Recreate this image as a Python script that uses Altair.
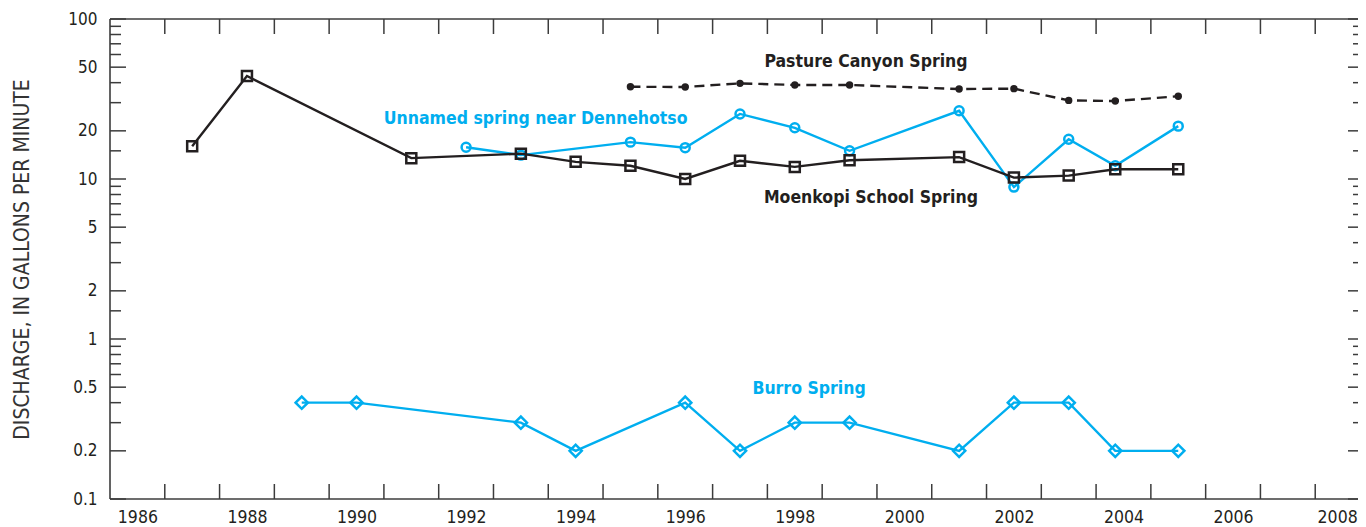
import altair as alt
import pandas as pd

# ---------------- data ----------------
moenkopi_year = [1987.5, 1988.5, 1991.5, 1993.5, 1994.5, 1995.5, 1996.5, 1997.5,
                 1998.5, 1999.5, 2001.5, 2002.5, 2003.5, 2004.35, 2005.5]
moenkopi_q = [16, 44, 13.5, 14.4, 12.8, 12.1, 10.0, 13.0, 11.9, 13.1, 13.7, 10.2, 10.5, 11.5, 11.5]

unnamed_year = [1992.5, 1993.5, 1995.5, 1996.5, 1997.5, 1998.5, 1999.5,
                2001.5, 2002.5, 2003.5, 2004.35, 2005.5]
unnamed_q = [15.8, 14.1, 17.0, 15.7, 25.5, 20.9, 15.0, 26.7, 8.9, 17.7, 12.1, 21.4]

pasture_year = [1995.5, 1996.5, 1997.5, 1998.5, 1999.5, 2001.5, 2002.5, 2003.5, 2004.35, 2005.5]
pasture_q = [37.7, 37.6, 39.6, 38.7, 38.7, 36.5, 36.7, 31.0, 30.7, 32.9]

burro_year = [1989.5, 1990.5, 1993.5, 1994.5, 1996.5, 1997.5, 1998.5, 1999.5,
              2001.5, 2002.5, 2003.5, 2004.35, 2005.5]
burro_q = [0.4, 0.4, 0.3, 0.2, 0.4, 0.2, 0.3, 0.3, 0.2, 0.4, 0.4, 0.2, 0.2]

label_text = ["Pasture Canyon Spring", "Unnamed spring near Dennehotso",
              "Moenkopi School Spring", "Burro Spring"]
label_year = [1999.8, 1993.77, 1999.89, 1998.76]
label_q = [53.8, 23.7, 7.6, 0.487]
label_color = ["#231f20", "#00aeef", "#231f20", "#00aeef"]

year_label_pos = [1986.5, 1988.5, 1990.5, 1992.5, 1994.5, 1996.5, 1998.5,
                  2000.5, 2002.5, 2004.5, 2006.5, 2008.4]
year_ticks = list(range(1987, 2009))
y_major = [0.1, 0.2, 0.5, 1, 2, 5, 10, 20, 50, 100]
y_minor = [0.3, 0.4, 0.6, 0.7, 0.8, 0.9, 1.5, 3, 4, 6, 7, 8, 9,
           15, 30, 40, 60, 70, 80, 90]

# ---------------- layout ----------------
W, H = 1248, 480          # visible plot area (SVG fits the 1350px body)
XR = 1260                 # full x range: the frame continues past the window
BLACK = "#231f20"
BLUE = "#00aeef"
AXC = "#3c3c3c"
FONT = "Liberation Sans Narrow, DejaVu Sans Condensed, Liberation Sans, sans-serif"

xscale = alt.Scale(domain=[1986, 2009], range=[0, XR], nice=False, zero=False)
yscale = alt.Scale(type="log", domain=[0.1, 100], nice=False)

x_axis = alt.Axis(values=year_label_pos, labelExpr="floor(datum.value)",
                  ticks=False, domain=False, grid=False, title=None,
                  labelFont=FONT, labelFontSize=17.5, labelColor=BLACK,
                  labelPadding=9, labelBound=False, labelOverlap=False)
y_axis = alt.Axis(values=y_major, format="~g", ticks=False, domain=False,
                  grid=False, labelFont=FONT, labelFontSize=17,
                  labelColor=BLACK, labelPadding=13,
                  title="DISCHARGE, IN GALLONS PER MINUTE",
                  titleFont=FONT, titleFontSize=21, titleFontWeight="normal",
                  titleColor="#333333", titleX=-82, titleY=H / 2,
                  titleAngle=270, titleAlign="center",
                  titleBaseline="alphabetic")

x_enc = alt.X("year:Q", scale=xscale, axis=x_axis)
y_enc = alt.Y("q:Q", scale=yscale, axis=y_axis)

df_m = pd.DataFrame({"year": moenkopi_year, "q": moenkopi_q})
df_u = pd.DataFrame({"year": unnamed_year, "q": unnamed_q})
df_p = pd.DataFrame({"year": pasture_year, "q": pasture_q})
df_b = pd.DataFrame({"year": burro_year, "q": burro_q})
df_l = pd.DataFrame({"year": label_year, "q": label_q, "text": label_text, "color": label_color})
df_xt = pd.DataFrame({"year": year_ticks})
df_ymaj = pd.DataFrame({"q": y_major})
df_ymin = pd.DataFrame({"q": y_minor})

# frame lines (top, bottom, left); the right side is past the window edge
frame_style = dict(color=AXC, strokeWidth=1.6)
frame_df = pd.DataFrame({"year": [1986], "q": [0.1]})
f_bottom = alt.Chart(frame_df).mark_rule(**frame_style).encode(
    x=alt.value(0), x2=alt.value(XR), y=alt.value(H))
f_top = alt.Chart(frame_df).mark_rule(**frame_style).encode(
    x=alt.value(0), x2=alt.value(XR), y=alt.value(0))
f_left = alt.Chart(frame_df).mark_rule(**frame_style).encode(
    x=alt.value(0), y=alt.value(0), y2=alt.value(H))

# tick marks (pointing inward)
tick_style = dict(color=AXC, strokeWidth=1.5)
xt_bottom = alt.Chart(df_xt).mark_rule(**tick_style).encode(
    x=x_enc, y=alt.value(H), y2=alt.value(H - 15))
xt_top = alt.Chart(df_xt).mark_rule(**tick_style).encode(
    x=x_enc, y=alt.value(0), y2=alt.value(15))
yt_left_maj = alt.Chart(df_ymaj).mark_rule(**tick_style).encode(
    y=y_enc, x=alt.value(0), x2=alt.value(16))
yt_left_min = alt.Chart(df_ymin).mark_rule(**tick_style).encode(
    y=y_enc, x=alt.value(0), x2=alt.value(11))
# right-hand ticks: only their visible stubs at the window edge
yt_right_maj = alt.Chart(df_ymaj).mark_rule(**tick_style).encode(
    y=y_enc, x=alt.value(W + 2), x2=alt.value(W - 10))
yt_right_min = alt.Chart(df_ymin).mark_rule(**tick_style).encode(
    y=y_enc, x=alt.value(W + 2), x2=alt.value(W - 5))


def series(df, color, shape, size, filled, dash=None):
    line_kw = dict(color=color, strokeWidth=2.4)
    if dash:
        line_kw["strokeDash"] = dash
    line = alt.Chart(df).mark_line(**line_kw).encode(x=x_enc, y=y_enc)
    pts = alt.Chart(df).mark_point(shape=shape, size=size, filled=filled,
                                   color=color, strokeWidth=2.5, opacity=1).encode(x=x_enc, y=y_enc)
    return line, pts


u_line, u_pts = series(df_u, BLUE, "circle", 80, False)
m_line, m_pts = series(df_m, BLACK, "square", 100, False)
p_line, p_pts = series(df_p, BLACK, "circle", 55, True, dash=[10, 6])
b_line, b_pts = series(df_b, BLUE, "diamond", 150, False)

labels = alt.Chart(df_l).mark_text(font=FONT, fontSize=17.5, fontWeight="bold").encode(
    x=x_enc, y=y_enc, text="text:N", color=alt.Color("color:N", scale=None))

chart = alt.layer(
    f_bottom, f_top, f_left,
    xt_bottom, xt_top, yt_left_maj, yt_left_min, yt_right_maj, yt_right_min,
    u_line, u_pts, m_line, m_pts, p_line, p_pts, b_line, b_pts, labels
).properties(
    width=W, height=H,
    autosize=alt.AutoSizeParams(type="none"),
    padding={"left": 102, "top": 11, "right": 0, "bottom": 28},
).configure_view(stroke=None)

chart.save("out.html", embed_options={"renderer": "svg", "actions": False})
